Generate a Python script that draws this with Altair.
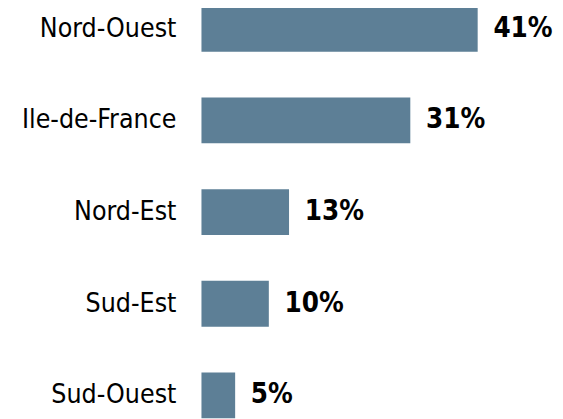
import altair as alt
import pandas as pd

regions = ["Nord-Ouest", "Ile-de-France", "Nord-Est", "Sud-Est", "Sud-Ouest"]
shares = [41, 31, 13, 10, 5]
labels = [f"{v}%" for v in shares]

df = pd.DataFrame({"region": regions, "share": shares, "label": labels})

FONT = "'DejaVu Sans Condensed', 'DejaVu Sans', sans-serif"
BAR_COLOR = "#5D7F96"

base = alt.Chart(df).encode(
    y=alt.Y(
        "region:N",
        sort=regions,
        scale=alt.Scale(paddingInner=0.5, paddingOuter=0),
        axis=alt.Axis(
            title=None,
            domain=False,
            ticks=False,
            grid=False,
            labelFont=FONT,
            labelFontSize=27,
            labelColor="black",
            labelPadding=26,
            labelLimit=400,
        ),
    ),
    x=alt.X("share:Q", scale=alt.Scale(domain=[0, 50]), axis=None),
)

bars = base.mark_bar(color=BAR_COLOR)
text = base.mark_text(
    align="left",
    baseline="middle",
    dx=16,
    font=FONT,
    fontSize=28,
    fontWeight="bold",
    color="black",
).encode(text="label:N")

chart = (
    (bars + text)
    .properties(
        width=343,
        height=420,
        autosize=alt.AutoSizeParams(type="none"),
        padding={"left": 197, "top": -6, "right": 17, "bottom": 0},
    )
    .configure_view(stroke=None)
)

chart.save("out.html", embed_options={"renderer": "svg", "actions": False})
